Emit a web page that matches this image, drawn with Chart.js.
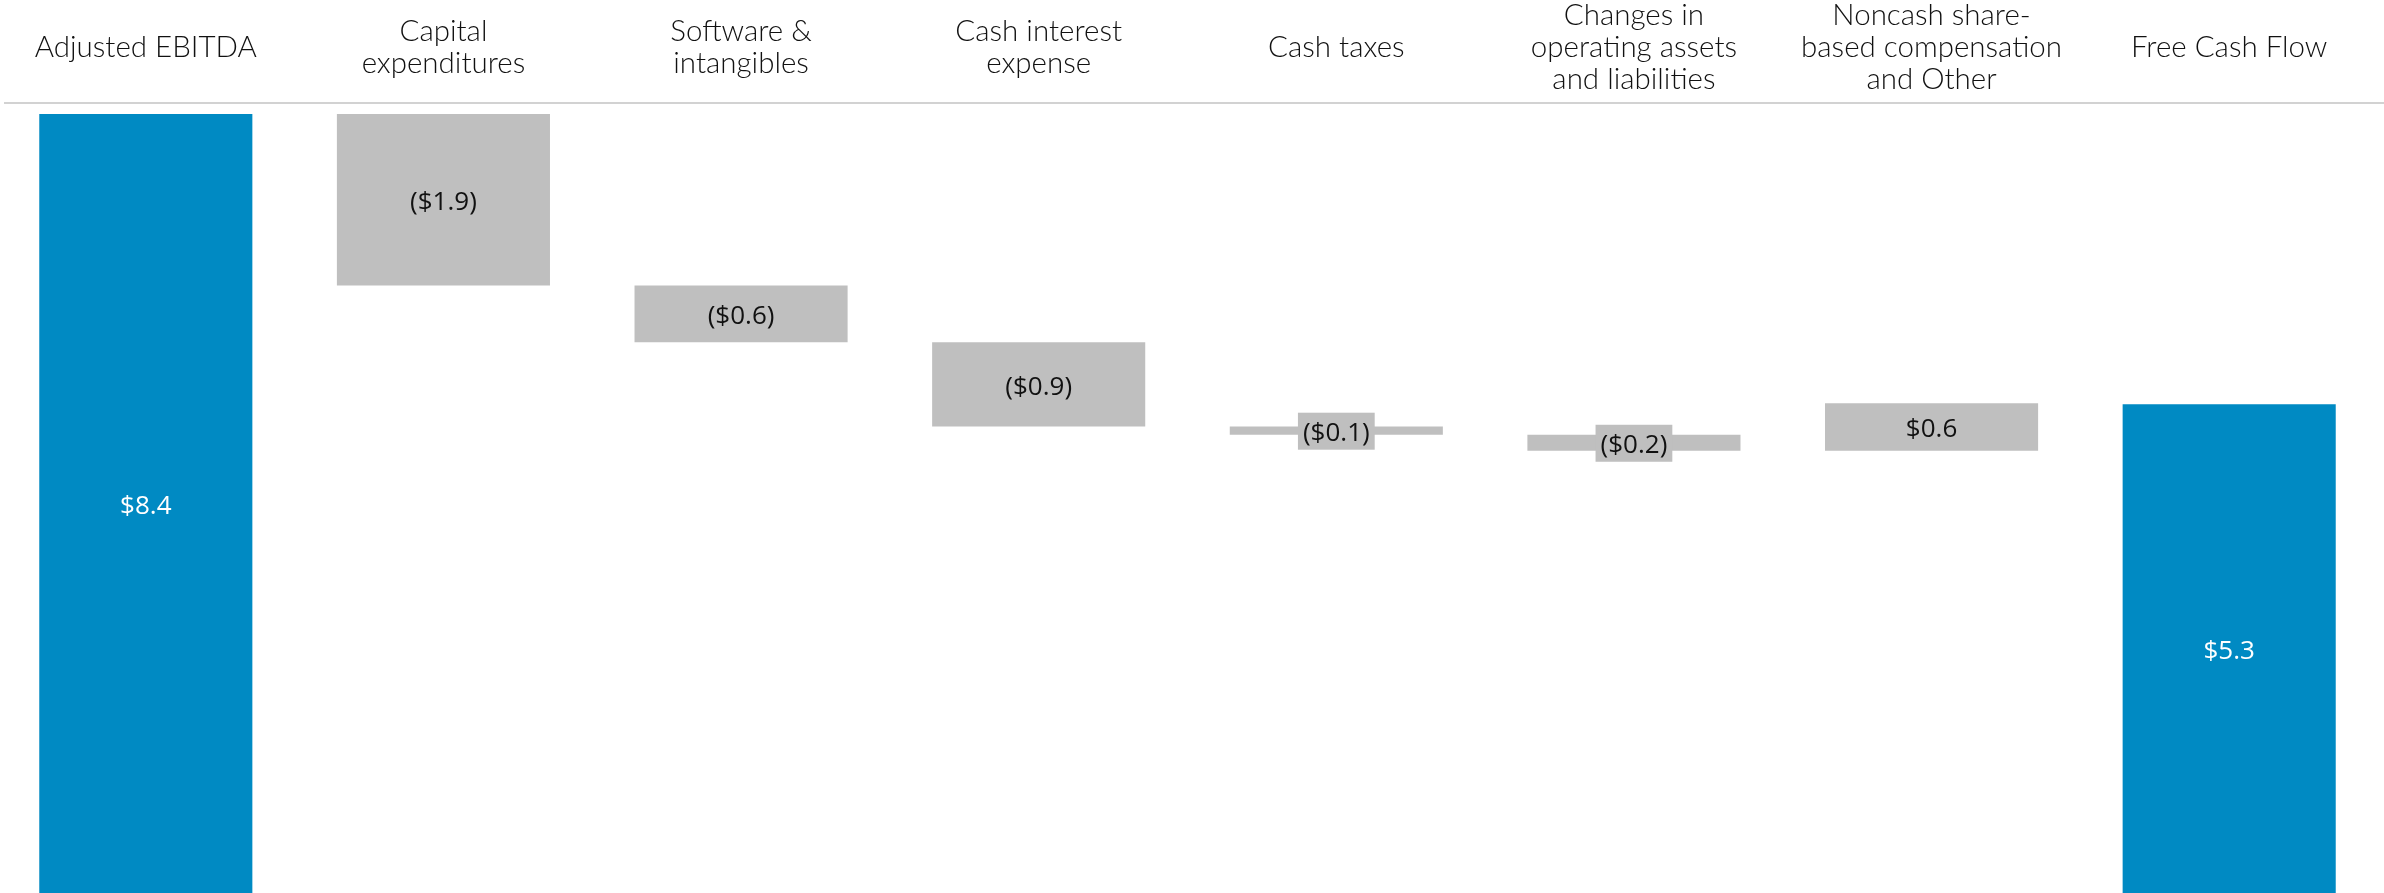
<!DOCTYPE html>
<html>
<head>
<meta charset="utf-8">
<script src="https://cdn.jsdelivr.net/npm/chart.js@4.4.1/dist/chart.umd.min.js"></script>
<style>
  html, body { margin: 0; padding: 0; background: #ffffff; overflow: hidden; }
  #wrap { position: absolute; left: -3px; top: 0; width: 2387px; height: 893px; }
</style>
</head>
<body>
<div id="wrap"><canvas id="c" width="2387" height="893"></canvas></div>
<script>
// ---- data ----
const categories = [
  ["Adjusted EBITDA"],
  ["Capital", "expenditures"],
  ["Software &", "intangibles"],
  ["Cash interest", "expense"],
  ["Cash taxes"],
  ["Changes in", "operating assets", "and liabilities"],
  ["Noncash share-", "based compensation", "and Other"],
  ["Free Cash Flow"]
];
const startValue = 8.4;
const stepChanges = [-1.85, -0.61, -0.91, -0.09, -0.17, 0.51];
const endValue = 5.27;
const valueLabels = ["$8.4", "($1.9)", "($0.6)", "($0.9)", "($0.1)", "($0.2)", "$0.6", "$5.3"];

// ---- build floating bars ----
const barData = [[0, startValue]];
let running = startValue;
stepChanges.forEach(d => { barData.push([running, running + d]); running += d; });
barData.push([0, endValue]);

const BLUE = '#008ac3';
const GRAY = '#bfbfbf';
const barColors = barData.map((_, i) => (i === 0 || i === barData.length - 1) ? BLUE : GRAY);
const labelColors = barData.map((_, i) => (i === 0 || i === barData.length - 1) ? '#ffffff' : '#111111');

const topRule = {
  id: 'topRule',
  afterDraw(chart) {
    const ctx = chart.ctx;
    ctx.save();
    ctx.strokeStyle = '#d2d2d2';
    ctx.lineWidth = 2;
    ctx.beginPath();
    ctx.moveTo(7, 103);
    ctx.lineTo(chart.width, 103);
    ctx.stroke();
    ctx.restore();
  }
};

const valueLabelPlugin = {
  id: 'valueLabels',
  afterDatasetsDraw(chart) {
    const ctx = chart.ctx;
    const meta = chart.getDatasetMeta(0);
    ctx.save();
    ctx.font = '400 26px "Open Sans"';
    ctx.textAlign = 'center';
    ctx.textBaseline = 'middle';
    meta.data.forEach((bar, i) => {
      const p = bar.getProps(['x', 'y', 'base', 'width'], true);
      const cy = (p.y + p.base) / 2;
      const h = Math.abs(p.base - p.y);
      const txt = valueLabels[i];
      const tw = ctx.measureText(txt).width;
      if (h < 34) {
        ctx.fillStyle = GRAY;
        ctx.fillRect(p.x - tw / 2 - 5, cy - 18, tw + 10, 37);
      }
      ctx.fillStyle = labelColors[i];
      ctx.fillText(txt, p.x, cy + 3);
    });
    ctx.restore();
  }
};

function draw() {
  new Chart(document.getElementById('c'), {
    type: 'bar',
    data: {
      labels: categories,
      datasets: [{
        data: barData,
        backgroundColor: barColors,
        borderWidth: 0,
        borderSkipped: false,
        barPercentage: 0.716,
        categoryPercentage: 1.0
      }]
    },
    options: {
      responsive: false,
      animation: false,
      devicePixelRatio: 1,
      layout: { padding: { left: 0, right: 6, top: 0, bottom: 0 } },
      plugins: { legend: { display: false }, tooltip: { enabled: false } },
      scales: {
        x: {
          position: 'top',
          grid: { display: false, drawTicks: false, tickLength: 0 },
          border: { display: false },
          ticks: {
            autoSkip: false,
            maxRotation: 0,
            minRotation: 0,
            crossAlign: 'center',
            padding: 35,
            color: '#111111',
            font: { family: 'Lato', size: 29.5, weight: 300, lineHeight: 1.085 }
          },
          afterFit(scale) { scale.height = 114; }
        },
        y: {
          display: false,
          min: 0,
          max: 8.4
        }
      }
    },
    plugins: [topRule, valueLabelPlugin]
  });
}

Promise.all([
  document.fonts.load('300 30px Lato'),
  document.fonts.load('400 26px "Open Sans"')
]).then(draw, draw);
</script>
</body>
</html>
